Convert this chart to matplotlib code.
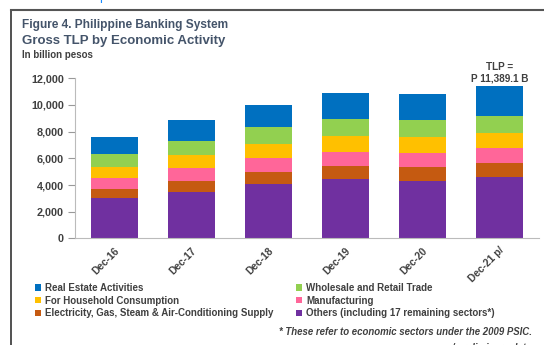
import matplotlib.pyplot as plt
from matplotlib.patches import Patch
from matplotlib.lines import Line2D

plt.rcParams['font.family'] = ['Liberation Sans', 'DejaVu Sans']

# Gross TLP by economic activity, billion pesos
periods = ['Dec-16', 'Dec-17', 'Dec-18', 'Dec-19', 'Dec-20', 'Dec-21 p/']
others = [3045, 3495, 4050, 4425, 4320, 4620]
electricity = [675, 805, 900, 1020, 1050, 1050]
manufacturing = [825, 995, 1095, 1055, 1005, 1080]
household = [825, 930, 1005, 1175, 1200, 1170]
wholesale = [930, 1095, 1320, 1275, 1300, 1255]
real_estate = [1275, 1550, 1650, 1970, 1975, 2214.1]
total_label = 'TLP =\nP 11,389.1 B'

series = [
    ('Others (including 17 remaining sectors*)', others, '#7030A0'),
    ('Electricity, Gas, Steam & Air-Conditioning Supply', electricity, '#C55A11'),
    ('Manufacturing', manufacturing, '#FF6699'),
    ('For Household Consumption', household, '#FFC000'),
    ('Wholesale and Retail Trade', wholesale, '#92D050'),
    ('Real Estate Activities', real_estate, '#0070C0'),
]

txt = '#404040'
hdr = '#44546A'

fig = plt.figure(figsize=(5.44, 3.45), dpi=100)
ax = fig.add_axes([0.138, 0.309, 0.852, 0.464])

x = list(range(len(periods)))
bottom = [0] * len(periods)
for name, vals, col in series:
    ax.bar(x, vals, 0.61, bottom=bottom, color=col, linewidth=0)
    bottom = [b + v for b, v in zip(bottom, vals)]

ax.set_xlim(-0.51, 5.51)
ax.set_ylim(0, 12000)
ax.set_yticks(range(0, 12001, 2000))
ax.set_yticklabels([f'{v:,}' for v in range(0, 12001, 2000)],
                   fontsize=7.8, fontweight='bold', color=txt)
ax.tick_params(axis='y', length=5, color='#999999', pad=3)
ax.set_xticks(x)
ax.set_xticklabels(periods, rotation=45, ha='right', rotation_mode='anchor',
                   fontsize=7.4, fontweight='bold', color=txt)
ax.tick_params(axis='x', length=0, pad=5)
for s in ['top', 'right']:
    ax.spines[s].set_visible(False)
for s in ['left', 'bottom']:
    ax.spines[s].set_color('#bbbbbb')
    ax.spines[s].set_linewidth(0.8)

ax.text(x[-1], bottom[-1] + 200, total_label, ha='center', va='bottom',
        fontsize=7.2, fontweight='bold', color=txt, linespacing=1.25)

# titles
fig.text(0.040, 0.919, 'Figure 4. Philippine Banking System', fontsize=8.6,
         fontweight='bold', color=hdr, va='baseline')
fig.text(0.040, 0.872, 'Gross TLP by Economic Activity', fontsize=9.5,
         fontweight='bold', color=hdr, va='baseline')
fig.text(0.040, 0.832, 'In billion pesos', fontsize=7.0,
         fontweight='bold', color=txt, va='baseline')

# legend, column-wise order
order = ['Real Estate Activities', 'For Household Consumption',
         'Electricity, Gas, Steam & Air-Conditioning Supply',
         'Wholesale and Retail Trade', 'Manufacturing',
         'Others (including 17 remaining sectors*)']
colors = {n: c for n, _, c in series}
handles = [Patch(facecolor=colors[n], edgecolor='none') for n in order]
leg = fig.legend(handles, order, ncol=2, loc='upper left',
                 bbox_to_anchor=(0.064, 0.180), frameon=False,
                 prop={'size': 7.0, 'weight': 'bold'}, handlelength=0.6,
                 handleheight=0.6, handletextpad=0.4, columnspacing=2.4,
                 labelspacing=0.28, borderpad=0, borderaxespad=0)
for t in leg.get_texts():
    t.set_color(txt)

fig.text(0.978, 0.030, '* These refer to economic sectors under the 2009 PSIC.',
         ha='right', fontsize=6.9, fontweight='bold', style='italic', color=txt)
fig.text(0.978, -0.017, 'p/ preliminary data', ha='right', fontsize=6.9,
         fontweight='bold', style='italic', color=txt)

# frame around the figure
fig.add_artist(Line2D([0.020, 0.020], [0.0, 0.972], color='#333333', lw=1.2,
                      transform=fig.transFigure))
fig.add_artist(Line2D([0.020, 1.0], [0.972, 0.972], color='#555555', lw=1.5,
                      transform=fig.transFigure))
fig.text(0.183, 1.0, 'p', color='#1a8cff', fontsize=9, va='baseline')

fig.savefig('out.png', dpi=100)
